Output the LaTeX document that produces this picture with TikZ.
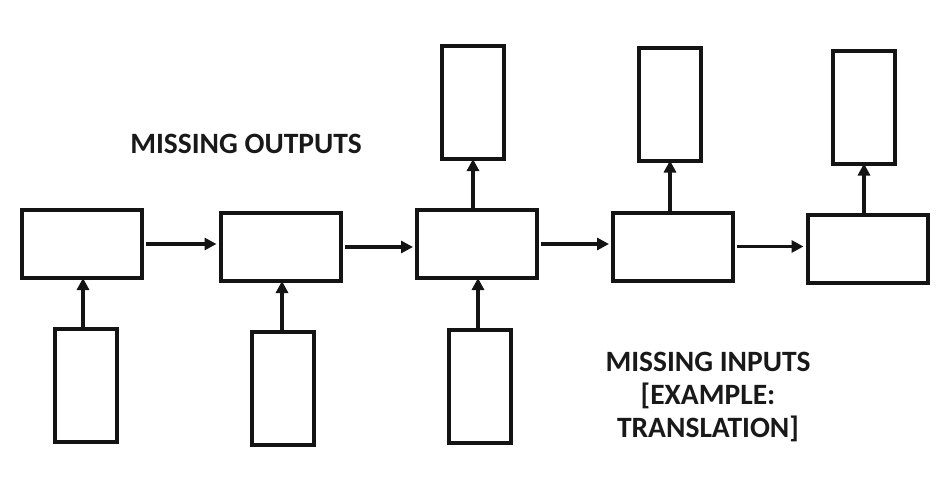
\documentclass[tikz,border=0pt]{standalone}
\usepackage{fontspec}
\setmainfont{Carlito}
\usetikzlibrary{arrows.meta}
\begin{document}
\begin{tikzpicture}[x=1pt,y=-1pt,
  hbox/.style={draw=black!92,line width=4pt,minimum width=120pt,minimum height=68pt,inner sep=0pt},
  vbox/.style={draw=black!92,line width=4pt,minimum width=62pt,minimum height=113pt,inner sep=0pt},
  conn/.style={draw=black!92,line width=3.5pt,-{Triangle[length=12pt,width=12pt]}},
  lbl/.style={font=\bfseries\fontsize{29.5}{33}\selectfont,text=black!90,align=center,inner sep=0pt}]
\useasboundingbox (0,0) rectangle (946,490);
\node[hbox] (h1) at (82,244) {};
\node[hbox] (h2) at (280.5,247) {};
\node[hbox] (h3) at (477,244) {};
\node[hbox] (h4) at (673,246.5) {};
\node[hbox] (h5) at (867.5,249) {};
\node[vbox] (i1) at (86,385.5) {};
\node[vbox] (i2) at (283,388.5) {};
\node[vbox] (i3) at (480,386.5) {};
\node[vbox] (o3) at (473,102.5) {};
\node[vbox] (o4) at (670,104) {};
\node[vbox] (o5) at (864,107) {};
\draw[conn] ([xshift=2pt]h1.east) -- ([xshift=-2pt]h1.east -| h2.west);
\draw[conn] ([xshift=2pt]h2.east) -- ([xshift=-2pt]h2.east -| h3.west);
\draw[conn] ([xshift=2pt]h3.east) -- ([xshift=-2pt]h3.east -| h4.west);
\draw[conn] ([xshift=2pt]h4.east) -- ([xshift=-2pt]h4.east -| h5.west);
\draw[conn] ([xshift=-3pt,yshift=-2pt]i1.north) -- ([xshift=-3pt,yshift=2pt]i1.north |- h1.south);
\draw[conn] ([xshift=-1pt,yshift=-2pt]i2.north) -- ([xshift=-1pt,yshift=2pt]i2.north |- h2.south);
\draw[conn] ([xshift=-2pt,yshift=-2pt]i3.north) -- ([xshift=-2pt,yshift=2pt]i3.north |- h3.south);
\draw[conn] ([yshift=-2pt]o3.south |- h3.north) -- ([yshift=2pt]o3.south);
\draw[conn] ([yshift=-2pt]o4.south |- h4.north) -- ([yshift=2pt]o4.south);
\draw[conn] ([yshift=-2pt]o5.south |- h5.north) -- ([yshift=2pt]o5.south);
\node[lbl,anchor=base] (t1) at (246,153) {MISSING OUTPUTS};
\node[lbl,anchor=base] (t2) at (708,437) {MISSING INPUTS\\{}[EXAMPLE:\\TRANSLATION]};
\end{tikzpicture}
\end{document}
